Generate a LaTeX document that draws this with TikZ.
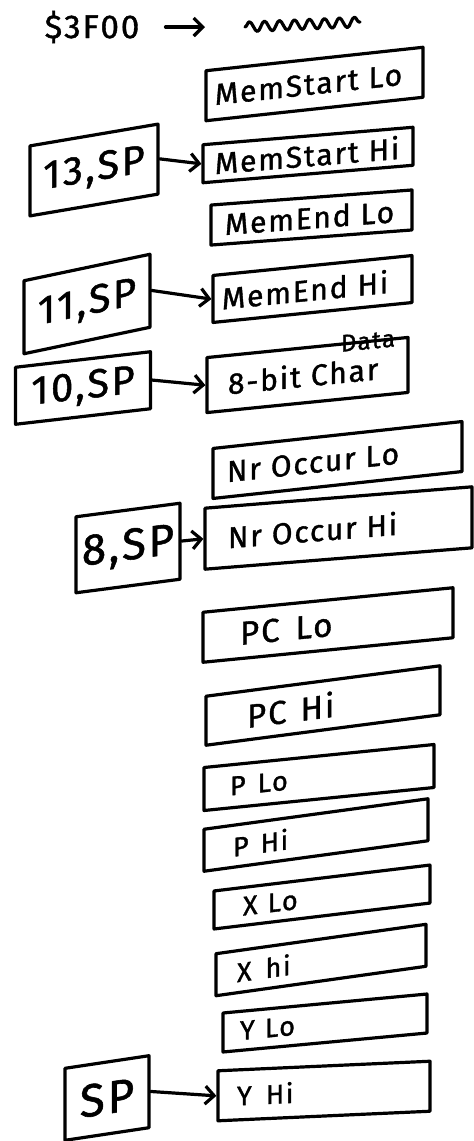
\documentclass[tikz,border=0pt]{standalone}
\usepackage{fontspec}
\setmainfont{Fira Sans}[LetterSpace=6, FakeBold=1.2]
\usetikzlibrary{arrows.meta,decorations.pathmorphing}

\begin{document}
\begin{tikzpicture}[x=1pt,y=-1pt,
  ink/.style={line width=3.2pt, line join=round, line cap=round},
  big/.style={font=\fontsize{30}{32}\selectfont},
  wide/.style={font=\fontsize{33}{35}\selectfont},
  small/.style={font=\fontsize{27}{29}\selectfont},
  cell/.style={ink, draw, align=left, inner xsep=6pt, inner ysep=0pt, big},
  reg/.style={ink, draw, align=center, inner sep=0pt, font=\fontsize{40}{42}\selectfont},
  link/.style={ink, -{Straight Barb[length=9pt,width=18pt,line width=3.2pt]}},
]
\useasboundingbox (0,0) rectangle (474,1141);

% header: base address and the memory it points to
\node[inner sep=0pt, font=\fontsize{33}{35}\selectfont] (addr) at (92,27) {\$3F00};
\coordinate (memA) at (245,27);
\coordinate (memB) at (360,22);
\draw[link, shorten <=26pt, shorten >=40pt] (addr.east) -- (memA);
\draw[ink, decorate, decoration={snake, amplitude=5pt, segment length=15pt}] (memA) -- (memB);

% stack cells, top to bottom
\node[cell, text width=205pt, minimum height=50pt, yslant=0.108] (msLo) at (314.5,84) {\hspace*{3pt}MemStart Lo};
\node[cell, text width=198pt, minimum height=38pt, yslant=0.083] (msHi) at (308,155) {\hspace*{6pt}MemStart Hi};
\node[cell, text width=189pt, minimum height=40pt, yslant=0.075] (meLo) at (311.5,217.5) {\hspace*{8pt}MemEnd Lo};
\node[cell, text width=187pt, minimum height=47pt, yslant=0.10] (meHi) at (312.5,289) {\hspace*{3pt}MemEnd Hi};
\node[cell, text width=189pt, minimum height=55pt, yslant=0.10] (chr) at (307.5,375) {\hspace*{15pt}\raisebox{-3pt}{8-bit Char}};
\node[inner sep=0pt, font=\fontsize{24}{26}\selectfont, yslant=0.1] (datanote) at (368,341) {Data};
\node[cell, text width=237pt, minimum height=50pt, yslant=0.108] (noLo) at (337.5,460) {\hspace*{8pt}Nr Occur Lo};
\node[cell, text width=255pt, minimum height=61pt, yslant=0.08] (noHi) at (338.5,528) {\hspace*{17pt}Nr Occur Hi};
\node[cell, wide, text width=238pt, minimum height=50pt, yslant=0.098] (pcLo) at (328,625) {\hspace*{31pt}PC\hspace{16pt}Lo};
\node[cell, wide, text width=222pt, minimum height=49pt, yslant=0.13] (pcHi) at (323,705.5) {\hspace*{35pt}PC\hspace{14pt}Hi};
\node[cell, small, text width=218pt, minimum height=43pt, yslant=0.10] (pLo) at (319,777.5) {\hspace*{20pt}P\hspace{12pt}Lo};
\node[cell, small, text width=212pt, minimum height=42pt, yslant=0.136] (pHi) at (316,835) {\hspace*{23pt}P\hspace{12pt}Hi};
\node[cell, small, text width=204pt, minimum height=38pt, yslant=0.12] (xLo) at (322,897) {\hspace*{23pt}X\hspace{10pt}Lo};
\node[cell, small, text width=198pt, minimum height=42pt, yslant=0.14] (xHi) at (321,960) {\hspace*{15pt}X\hspace{14pt}hi};
\node[cell, small, text width=192pt, minimum height=39pt, yslant=0.093] (yLo) at (325,1023) {\hspace*{11pt}Y\hspace{10pt}Lo};
\node[cell, small, text width=200pt, minimum height=50pt, yslant=0.045] (yHi) at (324,1091) {\hspace*{13pt}Y\hspace{14pt}Hi};

% stack-pointer offsets
\node[reg, minimum width=128pt, minimum height=70pt, yslant=0.17] (o13) at (94,170) {13,SP};
\node[reg, minimum width=126pt, minimum height=73pt, yslant=0.21] (o11) at (87,304) {11,SP};
\node[reg, minimum width=135pt, minimum height=57pt, yslant=0.115] (o10) at (83,388) {10,SP};
\node[reg, minimum width=104pt, minimum height=76pt, yslant=0.13, font=\fontsize{44}{46}\selectfont] (o8) at (128,548) {8,SP};
\node[reg, minimum width=84pt, minimum height=72pt, yslant=0.15, font=\fontsize{46}{48}\selectfont] (o0) at (107,1098) {SP};

\draw[link] (o13.east) -- (msHi.west);
\draw[link] (o11.east) -- (meHi.west);
\draw[link] (o10.east) -- (chr.west);
\draw[link] (o8.east) -- (noHi.west);
\draw[link] (o0.east) -- (yHi.west);
\end{tikzpicture}
\end{document}
